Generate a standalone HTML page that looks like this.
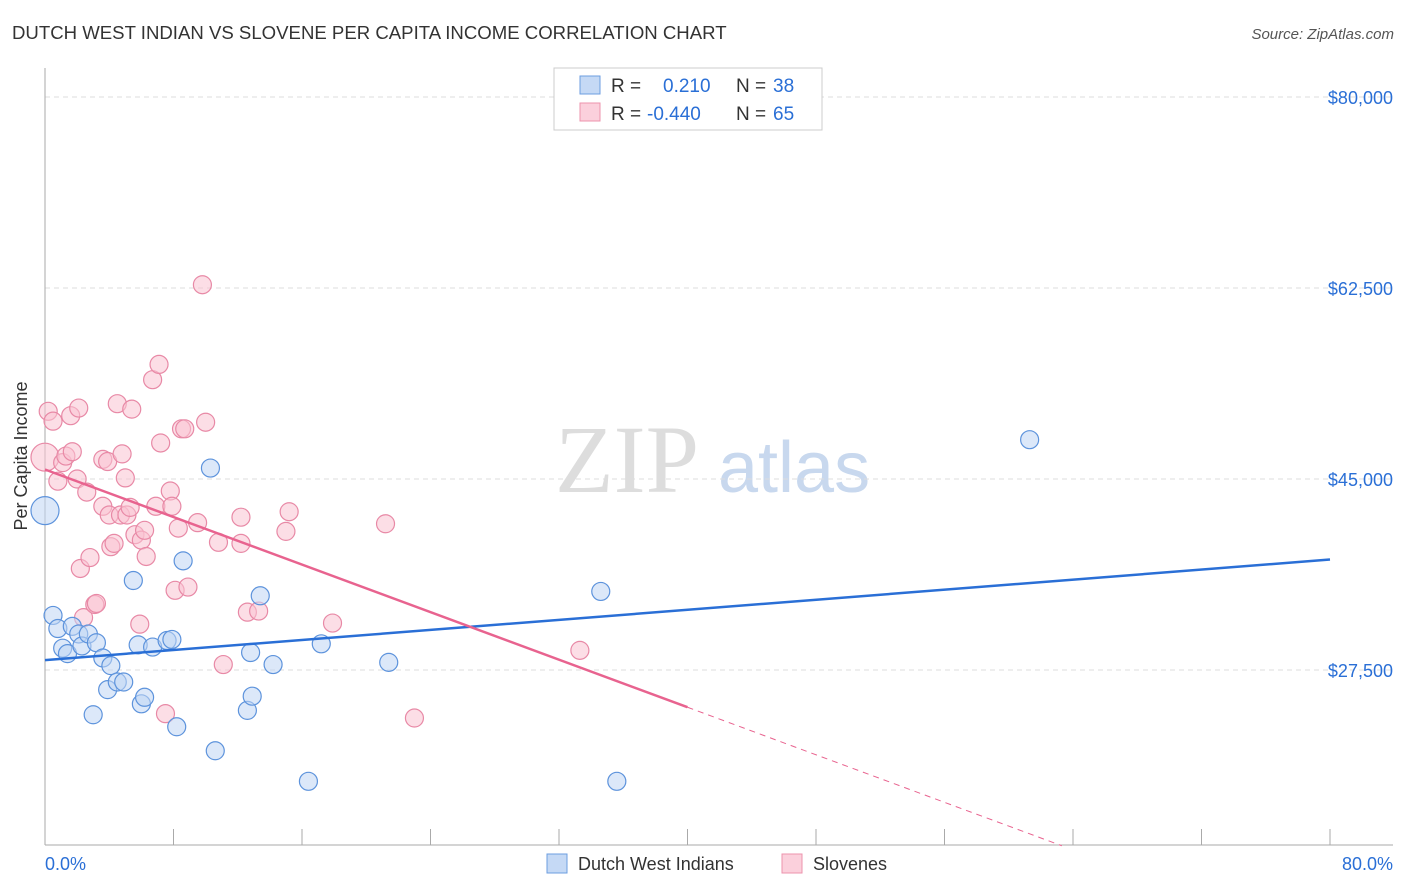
<!DOCTYPE html>
<html><head><meta charset="utf-8"><style>
body{margin:0;background:#fff;font-family:"Liberation Sans",sans-serif;}
svg{display:block}
</style></head><body>
<svg id="chart" width="1406" height="892">
<text x="12" y="39" font-size="18.6" fill="#333">DUTCH WEST INDIAN VS SLOVENE PER CAPITA INCOME CORRELATION CHART</text>
<text x="1394" y="39" font-size="15" fill="#555" text-anchor="end" font-style="italic">Source: ZipAtlas.com</text>
<text x="27" y="456" font-size="18" fill="#333" text-anchor="middle" transform="rotate(-90 27 456)">Per Capita Income</text>
<text x="555" y="492" font-size="96" fill="#ddd" font-family="Liberation Serif,serif">ZIP</text>
<text x="718" y="492" font-size="72" fill="#c8d8ee">atlas</text>
<g id="grid"></g><g id="marks"></g>
<g>
<rect x="554" y="68" width="268" height="62" fill="#fff" stroke="#ccc"/>
<rect x="580" y="76" width="20" height="18" fill="#c5d9f5" stroke="#6c9ee0"/>
<text x="611" y="92" font-size="19" fill="#333">R = </text><text x="663" y="92" font-size="19" fill="#2a6fd6">0.210</text>
<text x="736" y="92" font-size="19" fill="#333">N = </text><text x="773" y="92" font-size="19" fill="#2a6fd6">38</text>
<rect x="580" y="103" width="20" height="18" fill="#fbd0dc" stroke="#ec93ad"/>
<text x="611" y="120" font-size="19" fill="#333">R = </text><text x="647" y="120" font-size="19" fill="#2a6fd6">-0.440</text>
<text x="736" y="120" font-size="19" fill="#333">N = </text><text x="773" y="120" font-size="19" fill="#2a6fd6">65</text>
</g>
<g>
<rect x="547" y="854" width="20" height="19" fill="#c5d9f5" stroke="#6c9ee0"/>
<text x="578" y="870" font-size="18" fill="#333">Dutch West Indians</text>
<rect x="782" y="854" width="20" height="19" fill="#fbd0dc" stroke="#ec93ad"/>
<text x="813" y="870" font-size="18" fill="#333">Slovenes</text>
</g>
<text x="45" y="870" font-size="18" fill="#2a6fd6">0.0%</text>
<text x="1393" y="870" font-size="18" fill="#2a6fd6" text-anchor="end">80.0%</text>
</svg>
<script>
const yTicks=[80000,62500,45000,27500];
const yTickLabels=["$80,000","$62,500","$45,000","$27,500"];
const blueX=[0,0.5,0.8,1.1,1.4,1.7,2.1,2.3,2.7,3.0,3.2,3.6,3.9,4.1,4.5,4.9,5.5,5.8,6.0,6.2,6.7,7.6,7.9,8.2,8.6,10.3,10.6,12.6,12.8,12.9,13.4,14.2,16.4,17.2,21.4,34.6,35.6,61.3];
const blueY=[42100,32500,31300,29500,29000,31500,30800,29700,30800,23400,30000,28600,25700,27900,26400,26400,35700,29800,24400,25000,29600,30200,30300,22300,37500,46000,20100,23800,29100,25100,34300,28000,17300,29900,28200,34700,17300,48600];
const pinkX=[0,0.2,0.5,0.8,1.1,1.3,1.6,1.7,2.0,2.1,2.2,2.4,2.6,2.8,3.1,3.2,3.6,3.6,3.9,4.0,4.1,4.3,4.5,4.7,4.8,5.0,5.1,5.3,5.4,5.6,5.9,6.0,6.2,6.3,6.7,6.9,7.1,7.2,7.5,7.8,7.9,8.1,8.3,8.5,8.7,8.9,9.5,9.8,10.0,10.8,11.1,12.2,12.2,12.6,13.3,15.0,15.2,17.9,21.2,23.0,33.3];
const pinkY=[47000,51200,50300,44800,46500,47100,50800,47500,45000,51500,36800,32300,43800,37800,33500,33600,42500,46800,46600,41700,38800,39100,51900,41700,47300,45100,41700,42400,51400,39900,31700,39400,40300,37900,54100,42500,55500,48300,23500,43900,42500,34800,40500,49600,49600,35100,41000,62800,50200,39200,28000,41500,39100,32800,32900,40200,42000,31800,40900,23100,29300];
const X0=45,X1=1330,Y0=845;
function sx(v){return X0+(X1-X0)*v/80;}
function sy(v){return 670-(v-27500)*191/17500;}
const NS="http://www.w3.org/2000/svg";
const grid=document.getElementById('grid'),marks=document.getElementById('marks');
function el(t,a,p){const e=document.createElementNS(NS,t);for(const k in a)e.setAttribute(k,a[k]);p.appendChild(e);return e;}
yTicks.forEach((v,i)=>{
 const l=el('line',{x1:X0,x2:1393,y1:sy(v),y2:sy(v),stroke:'#ddd','stroke-dasharray':'5,4'},grid);
 
 
 const t=el('text',{x:1393,y:sy(v)+7,'font-size':18,fill:'#2a6fd6','text-anchor':'end'},grid);
 t.textContent=yTickLabels[i];
 
 
});
const ya=el('line',{x1:X0,x2:X0,y1:68,y2:Y0,stroke:'#aaa'},grid);


const xa=el('line',{x1:X0,x2:1393,y1:Y0,y2:Y0,stroke:'#aaa'},grid);


for(let i=0;i<=10;i++){const tk=el('line',{x1:sx(i*8),x2:sx(i*8),y1:Y0,y2:Y0-16,stroke:'#aaa'},grid);
 
 }
function dots(xs,ys,fill,stroke,name){xs.forEach((x,i)=>{
 const c=el('circle',{cx:sx(x),cy:sy(ys[i]),r:(i==0?14:9),fill:fill,'fill-opacity':0.55,stroke:stroke,'stroke-width':1.2},marks);
 
 });}
dots(pinkX,pinkY,'#f9c2d2','#e889a6','slovene-point');
dots(blueX,blueY,'#c0d6f4','#5d93dc','dutch-west-indian-point');
function fit(xs,ys){const n=xs.length;let mx=0,my=0;xs.forEach((x,i)=>{mx+=x;my+=ys[i];});mx/=n;my/=n;let a=0,b=0;xs.forEach((x,i)=>{a+=(x-mx)*(ys[i]-my);b+=(x-mx)*(x-mx);});const s=a/b;return [s,my-s*mx];}
const bf=fit(blueX,blueY);
const bl=el('line',{x1:sx(0),y1:sy(bf[1]),x2:sx(80),y2:sy(bf[1]+bf[0]*80),stroke:'#2a6fd6','stroke-width':2.5},marks);


const pf=fit(pinkX,pinkY);
const pl=el('line',{x1:sx(0),y1:sy(pf[1]),x2:sx(40),y2:sy(pf[1]+pf[0]*40),stroke:'#e8638f','stroke-width':2.5},marks);


const xe=Math.min(80,(11400-pf[1])/pf[0]);
const pd=el('line',{x1:sx(40),y1:sy(pf[1]+pf[0]*40),x2:sx(xe),y2:sy(pf[1]+pf[0]*xe),stroke:'#e8638f','stroke-width':1,'stroke-dasharray':'6,5'},marks);


</script>
</body></html>
